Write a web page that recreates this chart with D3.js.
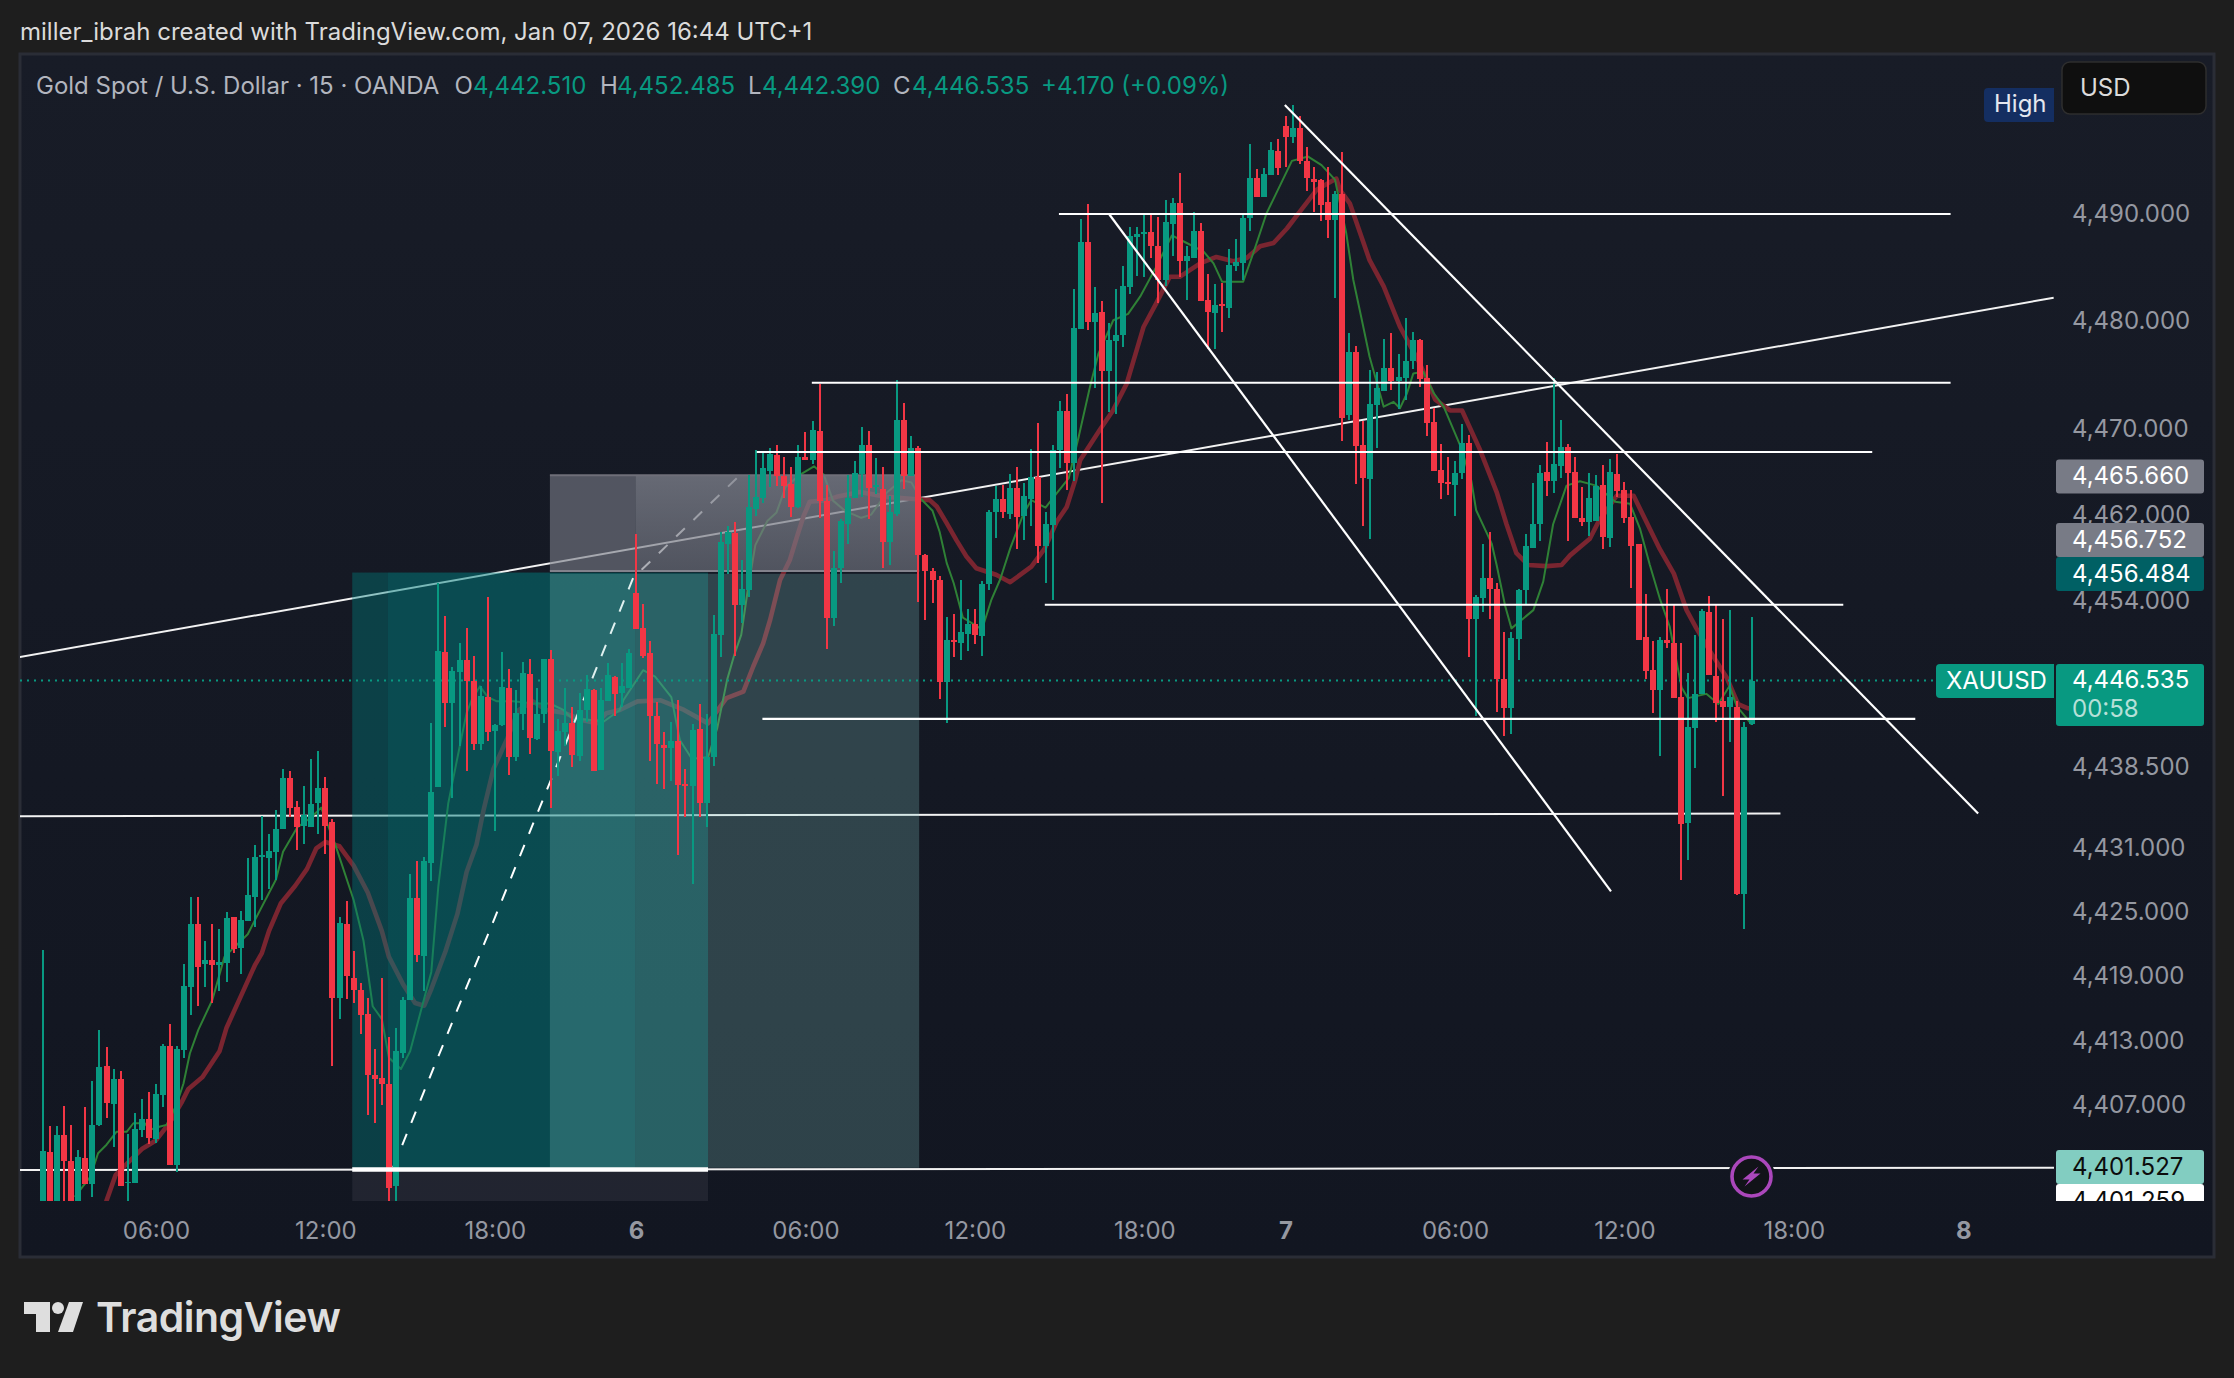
<!DOCTYPE html>
<html>
<head>
<meta charset="utf-8">
<script src="https://cdn.jsdelivr.net/npm/d3@7"></script>
<style>
  html, body { margin: 0; padding: 0; background: #1e1e1e; }
  svg { display: block; }
  text { font-family: Inter, "Noto Sans", sans-serif; }
</style>
</head>
<body>
<svg id="chart"></svg>
<script>
// 15 min candles, first bar is 02:00 on the 5th
const opens = [
  4397,4402.6,4397,4404.2,4401.8,4397,4402.05,4399.65,4405.1,4410.6,
  4407.1,4409.4,4399.75,4399.73,4404.67,4405.7,4403.8,4407.9,4412.5,4401.4,
  4412.1,4418,4423.9,4420.1,4420.5,4420,4420.2,4424.5,4421.6,4424.1,
  4426.4,4430.1,4430,4430.6,4432.7,4437.5,4434.8,4433,4432.9,4435.1,
  4436.5,4433.4,4417,4423.9,4418.8,4417.7,4415.5,4409.8,4409.5,4409,
  4399.5,4411.8,4416.8,4426.3,4420.9,4429.5,4436.65,4449.2,4444.45,4447.3,
  4448.45,4446.5,4440.6,4445,4441.85,4442.4,4445.85,4439.4,4443.4,4447.15,
  4441.1,4443.4,4448.55,4439.9,4441.75,4442.6,4439.5,4443.8,4445.65,4438.2,
  4444.65,4446.85,4445.35,4445.8,4454.7,4451.4,4449.1,4443.2,4440.55,4440.3,
  4440.9,4436.9,4436.7,4442,4435.1,4439.4,4450.8,4459.3,4460.25,4453.6,
  4455,4462.5,4463.5,4466.1,4467.55,4465.55,4464.85,4462.7,4467.4,4467.1,
  4469.8,4463.25,4452.4,4457,4461.1,4463.5,4465.8,4468.45,4464.6,4464.4,
  4459.4,4462.1,4470.85,4465.55,4468.2,4458.25,4456.7,4455.9,4446.4,4450.3,
  4450,4450.9,4451.8,4450.7,4455.55,4462.2,4463.45,4462.1,4464.5,4461.85,
  4463.45,4465.5,4459.1,4461.05,4468,4471.65,4466.85,4479.3,4487.35,4479.9,
  4480.85,4475.4,4478.2,4478.7,4483.2,4487.9,4488.2,4488.3,4487,4483.85,
  4489.05,4491,4485.6,4485.9,4488.4,4481.95,4480.8,4481.6,4481.25,4485.2,
  4485.45,4489.65,4493.4,4491.6,4493.65,4495.85,4498.2,4497.2,4498.05,4494.95,
  4493.3,4493.2,4491.1,4489.45,4491.85,4471.3,4477.15,4468.5,4465.3,4472.2,
  4473.55,4475.7,4474.4,4474.7,4476.35,4478.3,4474.7,4470.6,4466.15,4465,
  4464.8,4465.85,4468.7,4452.25,4454.25,4456.05,4455.1,4446.65,4443.95,4450.45,
  4455,4458.9,4461.1,4466,4465.1,4466.5,4468.3,4466,4461.65,4461.35,
  4461.4,4464.75,4459.8,4465.8,4464.3,4461.75,4459.25,4450.6,4447.55,4445.7,
  4450.3,4450.05,4445,4433.3,4442.15,4445.3,4452.9,4447,4444.65,4444.1,
  4444.1,4426.7,4442.51
];
const closes = [
  4402.7,4397,4404.2,4401.8,4397,4402.15,4399.65,4405.1,4410.5,4407.2,
  4409.4,4399.5,4399.85,4404.76,4405.7,4403.9,4408,4412.5,4401.4,4412.2,
  4418.08,4423.9,4419.9,4420.5,4420,4420.3,4424.45,4421.5,4424.2,4426.6,
  4430.1,4430.3,4430.7,4432.7,4437.5,4434.7,4432.9,4434,4435,4436.5,
  4433,4417,4424,4419,4417.7,4415.4,4409.8,4409.4,4409,4399.3,
  4412,4416.8,4426.3,4421,4429.7,4436.2,4449.3,4444.45,4447.4,4448.45,
  4446.5,4440.6,4445.1,4441.75,4442.4,4445.9,4439.4,4443.5,4447.25,4441.2,
  4443.4,4448.55,4440,4441.85,4442.6,4439.6,4443.8,4445.75,4438.1,4444.7,
  4447.05,4445.3,4446,4449.1,4451.35,4448.8,4443.2,4440.6,4440.3,4440.9,
  4436.8,4436.7,4441.9,4435.1,4439.4,4450.9,4459.45,4460.4,4453.6,4455.05,
  4462.7,4463.6,4466.3,4467.6,4465.6,4464.7,4462.7,4467.4,4467.1,4469.9,
  4463.25,4452.4,4457,4461.4,4463.5,4465.9,4468.45,4464.45,4464.75,4459.4,
  4462.2,4470.85,4465.55,4468.2,4458.2,4456.7,4455.9,4446.4,4450.3,4450.1,
  4451.05,4451.8,4450.8,4455.55,4462.25,4463.45,4462.2,4464.45,4461.8,4463.7,
  4465.5,4459.1,4461.1,4468,4471.65,4466.85,4479.35,4487.35,4479.9,4480.75,
  4475.4,4478.25,4478.7,4483.3,4487.95,4488.1,4488.3,4487,4483.85,4489.25,
  4491,4485.6,4486.1,4488.4,4481.9,4480.9,4481.5,4481.45,4485.25,4485.5,
  4489.6,4493.4,4491.6,4493.7,4495.95,4494.3,4497.2,4498.05,4494.9,4493.4,
  4493,4490.8,4489.45,4491.9,4471,4477.15,4468.4,4465.45,4472.3,4473.75,
  4475.7,4474.45,4474.8,4476.35,4478.3,4474.65,4470.55,4466.05,4464.95,4464.9,
  4465.85,4468.65,4452.3,4454.3,4456.05,4455.1,4446.65,4443.95,4450.5,4455,
  4459.05,4461.1,4465.85,4465.1,4466.7,4468.3,4465.9,4461.65,4461.35,4463.55,
  4464.7,4459.95,4465.95,4464.2,4461.7,4459.1,4450.35,4447.4,4445.7,4450.3,
  4450,4444.9,4433.2,4442.2,4445.3,4453,4447.1,4444.45,4444.1,4445.05,
  4426.7,4442.25,4446.535
];
const highs = [
  4421.4,4405,4405,4406.9,4405.1,4402.8,4406.8,4409.2,4414,4412.4,
  4410.4,4410.2,4404.3,4406.25,4407.55,4408.2,4408.95,4412.7,4414.5,4412.5,
  4420.1,4426.4,4426.4,4422.3,4423.9,4423.4,4425,4424.5,4425.1,4430,
  4431.2,4433.9,4432.2,4434.5,4438.3,4438.1,4435.3,4436.7,4439.2,4440,
  4437.6,4433.6,4424.5,4426,4421.3,4418.4,4417,4412.2,4418.8,4413.3,
  4414.2,4417.1,4428.5,4429.7,4430.1,4442.6,4455.66,4452.55,4447.8,4450,
  4451.4,4448.8,4446,4454.3,4442.5,4449.2,4447.6,4445.65,4448.3,4448.55,
  4445.85,4448.55,4449.4,4443,4445.85,4444.1,4445.4,4447.05,4445.75,4445.85,
  4448.2,4446.95,4448.2,4449.45,4460.2,4453.7,4450.2,4444.5,4441.7,4442.65,
  4444.7,4438.3,4442.5,4444.4,4443.4,4452.6,4460.4,4460.9,4461.3,4457.8,
  4465.7,4468,4467.7,4468.2,4468.5,4467.4,4466.4,4468.5,4469.7,4470.7,
  4474.2,4464.75,4458.6,4461.55,4465.7,4467,4470.2,4469.8,4467.3,4466.4,
  4463.7,4474.5,4472.4,4469.3,4468.4,4458.3,4457.05,4456.25,4452.45,4452.7,
  4455.9,4453.2,4453.2,4455.8,4462.45,4464.65,4464.75,4465.8,4466.4,4464.9,
  4468.1,4470.5,4462.25,4468.45,4472.55,4473.2,4482.98,4489.5,4490.9,4483.2,
  4481.9,4479.8,4483,4485.2,4488.75,4488.8,4490.1,4490.05,4489.75,4491.35,
  4491.45,4493.85,4487,4490.2,4489.2,4484.4,4483.5,4483.6,4486.7,4487.65,
  4489.9,4496.5,4494.15,4494.25,4496.7,4496.95,4499.15,4500.15,4499.15,4496.2,
  4494.35,4493.3,4494.35,4492.1,4495.75,4478.9,4477.75,4470.75,4475.45,4475.25,
  4478.35,4478.9,4477,4480.3,4479,4478.4,4475.95,4471.9,4468.55,4467.35,
  4467,4470.4,4469.4,4454.5,4459.25,4460.4,4455.6,4451.1,4451.1,4455.1,
  4460.2,4464.95,4466.6,4468.75,4474.75,4470.8,4468.55,4467.35,4464.55,4465.85,
  4465.65,4466.65,4467.15,4467.6,4465,4464.3,4459.25,4454.6,4450.25,4450.6,
  4455.1,4453.65,4450.05,4447.2,4450.75,4453.2,4454.4,4453.6,4452.3,4453.1,
  4444.6,4442.65,4452.485
];
const lows = [
  4396,4396,4396,4397,4396,4396,4399.6,4398.46,4405,4405.8,
  4403.1,4399.45,4396,4399.7,4404,4403.4,4403.45,4406.8,4401.4,4400.8,
  4411.4,4415.4,4416.2,4418,4416.5,4417.6,4418.5,4421.2,4419.2,4424.1,
  4423.6,4426.1,4427.1,4428,4432.7,4433.8,4430.8,4431.3,4432.9,4432.2,
  4430.4,4410.6,4415,4416.9,4416.5,4413.6,4406.1,4405.3,4407,4396,
  4396,4411.4,4416.8,4420.3,4417.6,4427.9,4436.6,4442.25,4435.6,4440.45,
  4438.15,4440.1,4440.1,4440.9,4432.5,4442.3,4437.75,4439.05,4441.9,4439.7,
  4441,4442.6,4434.7,4437.65,4440.4,4438.5,4439,4442.7,4438.1,4438.2,
  4444.65,4443.25,4444.1,4445.8,4451.3,4448.6,4439,4436.9,4436.4,4437.2,
  4430.3,4433.8,4427.6,4433.8,4432.9,4438.6,4448.7,4456.5,4448.8,4451.9,
  4454.35,4461.9,4463.1,4464.6,4464.7,4463.5,4461.8,4462.6,4467.05,4466.7,
  4461.7,4449.5,4451.6,4455.6,4459.3,4463.5,4463.6,4461.6,4463.95,4457.05,
  4457.3,4461.9,4464.4,4465.55,4453.85,4452.15,4453.75,4444.85,4442.6,4448.7,
  4448.5,4449.25,4449.9,4448.8,4455,4459.85,4461.7,4461.55,4458.75,4459.6,
  4460.9,4457.45,4455.6,4454,4466.35,4464.3,4465.15,4479.3,4479.15,4473.75,
  4463.1,4471.6,4471.4,4477.6,4482.55,4484.2,4484.15,4485.9,4481.7,4483.3,
  4486.1,4484.15,4482,4485.9,4481.85,4477.4,4477.45,4479.05,4480.35,4484.7,
  4483.85,4488.45,4491.6,4491.6,4493.65,4493.65,4494.35,4496.65,4494.65,4492.1,
  4490.2,4489.35,4487.8,4482.2,4468.9,4470.8,4464.85,4460.95,4459.7,4468.2,
  4473.55,4473.6,4471.8,4472.7,4475.55,4473.85,4469.35,4466.05,4463.45,4463.8,
  4461.85,4465.3,4448.7,4443.2,4452.9,4452.25,4443.65,4441.4,4441.6,4448.45,
  4453.65,4458.9,4459.5,4463.75,4464.05,4465.45,4459.5,4461.65,4460.95,4460,
  4461.4,4458.8,4459,4463.65,4461.25,4455.2,4450.35,4446.65,4443.5,4439.5,
  4449.6,4444.9,4427.95,4429.85,4438.35,4445.3,4447.1,4442.7,4435.8,4440.85,
  4426.55,4423.35,4442.39
];

// the two moving averages, vertices as [bar, price]
const fastMA = [
  [4.5,4398.45],[6.7,4400.3],[7.8,4402.5],[9,4403.3],[10.4,4404.5],[11.85,4404.5],[12.8,4405.3],[14.4,4405.3],
  [15.15,4404.7],[16.6,4405],[17.5,4405.15],[18.9,4407],[19.9,4409],[20.8,4411.8],[22,4414],[24,4416.8],
  [25.7,4420.8],[29,4422.9],[30,4424.2],[33,4428],[34,4430.6],[36,4432.85],[38,4433.8],[39.4,4434.7],
  [41.4,4431.25],[44,4426.1],[45.4,4422.3],[46.7,4416.2],[48,4415],[49,4411.4],[50.7,4410.35],[52,4412],
  [53.7,4416.2],[55,4419.4],[56,4427.4],[57.4,4435.1],[59.3,4441.3],[60,4443.5],[60.7,4444.7],[61.9,4446],
  [63,4445],[64.3,4444.6],[66.6,4444.6],[69.5,4444.4],[71.8,4444.4],[73.7,4443.8],[75.1,4442.9],[77,4442.9],
  [79.4,4442.7],[81.7,4443.8],[82.2,4444.7],[85,4447.5],[86.7,4446.9],[89,4445],[90.2,4441],[91.9,4439.25],
  [94.2,4439.4],[95.5,4442.1],[96.9,4446.6],[97.9,4448.9],[98.9,4450.8],[99.9,4455.3],[100.9,4459.15],[102.6,4461.4],
  [103.9,4462.2],[105.2,4464.6],[107.2,4465.7],[109.2,4466.5],[110.6,4465.7],[111.9,4463.3],[113.6,4462.35],[115.9,4461.7],
  [117.3,4462],[119.6,4464.1],[121.6,4465.2],[123,4465],[124.3,4463.5],[126,4462.35],[127,4460.4],[128,4457.5],
  [129,4455.6],[130.3,4452.4],[133,4451.3],[134.3,4454],[135.6,4456],[137,4458.85],[138.9,4462.1],[140,4463.35],
  [142,4462.65],[143.6,4464],[145.3,4465.4],[146.7,4469.25],[148.3,4473.9],[149.5,4477],[151.6,4480.1],[153.7,4480.7],
  [155.4,4482.3],[157.7,4485.1],[159.9,4488],[162,4487.3],[164.4,4486.5],[165.8,4485.4],[167,4483.7],[170,4483.7],
  [171.4,4486.3],[173.3,4490.05],[176.9,4494.95],[179.2,4495.35],[181.1,4494.55],[183,4493.2],[184.6,4488.2],[185.6,4483.85],
  [186.8,4480.15],[187.9,4476.7],[189.9,4472.05],[191.3,4472.5],[192.2,4471.9],[193.2,4473.3],[194.1,4475.15],[195.5,4475.3],
  [197,4473.3],[198.4,4472.05],[200.7,4468.5],[202.3,4465.2],[203,4462.4],[205.2,4459.3],[205.9,4457.3],[207.1,4453.5],
  [208,4451.4],[211.1,4453.1],[212.5,4455.75],[213.9,4461.1],[215.8,4464.7],[217.7,4465.1],[220,4464.7],[222.7,4463.2],
  [224.8,4463],[226.2,4460.7],[227.6,4457.3],[229,4454.2],[230.4,4451.6],[232.1,4445.9],[233,4444.9],[235.6,4445.3],
  [237.3,4444.35],[238.9,4446.05],[239.9,4444.15],[241.1,4443.2],[242,4442.45]
];
const slowMA = [
  [8.95,4398],[10.3,4400.5],[12,4401.6],[14,4402.9],[16,4403.7],[18,4405.4],[19.6,4407.2],[20.6,4408.5],
  [22.6,4409.6],[25,4412],[26,4414.2],[28,4417.1],[30,4420],[31,4421.15],[32,4423.2],[33.7,4425.8],
  [35.7,4427.4],[37.4,4429],[38.7,4430.9],[40,4431.5],[42,4431.1],[44,4429.3],[46,4426.8],[48,4423.2],
  [49,4420.8],[51,4418.25],[52.7,4416.5],[54,4416.25],[55,4417.8],[57,4421.3],[58.7,4424.8],[60,4428.7],
  [61.4,4431.25],[62.4,4434.45],[63.8,4438.3],[65.8,4441.2],[67.4,4443.8],[69.4,4444.6],[71.3,4443.8],[73.7,4443.55],
  [76.5,4442.85],[78.4,4442.55],[79.8,4443.5],[81.7,4443.8],[84.2,4444.6],[87.5,4444.7],[90.8,4443.8],[94.2,4442.55],
  [96.8,4444.9],[99.2,4445.5],[100.6,4447.85],[102,4450],[103,4452.2],[104.4,4455.9],[105.8,4457.8],[106.8,4459.95],
  [107.7,4461.8],[108.6,4463.2],[111,4463.35],[112.4,4463.65],[115.7,4464.1],[119.5,4463.65],[123.3,4463.45],[125.6,4463.35],
  [126.6,4462.75],[128,4461.2],[129.4,4459.6],[130.8,4458.1],[132.2,4457],[135,4456.4],[137,4455.7],[140,4457.15],
  [141.9,4458.85],[143.6,4461.35],[145,4462.7],[146.2,4465.2],[146.9,4467.05],[149.7,4469.9],[151.6,4471.75],[153.5,4474.2],
  [155.9,4479.5],[157.7,4481.7],[159.6,4484.15],[161,4484.15],[163.9,4485.4],[166.2,4486],[168.6,4485.6],[170.5,4485.9],
  [172.4,4487],[174.3,4487.3],[176.2,4488.65],[178,4490.2],[180.4,4492.25],[183.2,4493.3],[183.7,4492.25],[185.1,4491],
  [187.9,4485.7],[189.9,4483.25],[192.2,4479.5],[195,4476.1],[197.2,4472.7],[199.3,4471.7],[201,4471.7],[203.5,4468.1],
  [205.9,4464.1],[207.3,4461.1],[208.7,4458.4],[210.4,4457.3],[213,4457.2],[215.1,4457.3],[216.3,4458.2],[219.1,4459.75],
  [220.3,4461.3],[222.9,4463.75],[225.3,4463.75],[229,4458.8],[231,4456.5],[232.8,4453.1],[234.2,4451.4],[236.1,4449.3],
  [238.5,4446.8],[240.1,4444.35],[241.5,4443.95],[242,4443.9]
];

// drawings, [bar, price] end points
const underLines = [
  [[-3.3,4448.73],[284.8,4482.2]],
  [[-3.3,4433.9],[246.1,4434.15]],
  [[-3.3,4400.95],[285,4401.15]]
];
const overLines = [
  [[143.9,4490],[270.2,4490]],
  [[108.9,4474.28],[270.2,4474.28]],
  [[101.1,4467.83],[259.1,4467.83]],
  [[141.9,4453.6],[255,4453.6]],
  [[101.9,4442.97],[265.2,4442.97]],
  [[151,4490],[222.1,4426.9]],
  [[175.9,4500.15],[274.1,4434.15]]
];
const dashedPath = [[49.6,4401.2],[83.6,4456.1],[98.7,4465.66]];
const thickLine = [[43.8,4401],[94.2,4401]];

// position tool boxes: first bar, last bar, top price, bottom price
const tealBoxes = [
  [43.8,48.8,4456.6,4401.1,0.4],
  [48.8,83.9,4456.6,4401.1,0.5],
  [83.9,94.2,4456.6,4401.1,0.4]
];
const lightBox = [71.8,124.1,4456.484,4401.15];
const stopBoxLeft = [71.8,83.9,4465.66,4456.752];
const stopBoxRight = [83.9,124.1,4465.66,4456.752];
const darkBox = [43.8,94.2,4401,4390];

const priceTicks = [4490,4480,4470,4462,4454,4438.5,4431,4425,4419,4413,4407];
const timeTicks = [16,40,64,84,108,132,156,176,200,224,248,272];
const timeLabels = ["06:00","12:00","18:00","6","06:00","12:00","18:00","7","06:00","12:00","18:00","8"];
const boldLabels = ["6","7","8"];
const lastPrice = 4446.535;

const legendTitle = "Gold Spot / U.S. Dollar · 15 · OANDA";
const legendKeys = ["O","H","L","C"];
const legendValues = ["4,442.510","4,452.485","4,442.390","4,446.535"];
const legendChange = "+4.170 (+0.09%)";
const headerText = "miller_ibrah created with TradingView.com, Jan 07, 2026 16:44 UTC+1";

const W = 2234, H = 1378;
const green = "#089981", red = "#f23645";
const pane = { left: 20, right: 2054, top: 54, bottom: 1201 };

const svg = d3.select("#chart").attr("width", W).attr("height", H);
const defs = svg.append("defs");

const paneBg = defs.append("linearGradient").attr("id", "paneBg").attr("x1", 0).attr("x2", 0).attr("y1", 0).attr("y2", 1);
paneBg.append("stop").attr("offset", 0).attr("stop-color", "#181c27");
paneBg.append("stop").attr("offset", 0.6).attr("stop-color", "#141823");
paneBg.append("stop").attr("offset", 1).attr("stop-color", "#121621");

const stopFill = defs.append("linearGradient").attr("id", "stopFill").attr("x1", 0).attr("x2", 0).attr("y1", 0).attr("y2", 1);
stopFill.append("stop").attr("offset", 0).attr("stop-color", "#787b86").attr("stop-opacity", 0.82);
stopFill.append("stop").attr("offset", 1).attr("stop-color", "#787b86").attr("stop-opacity", 0.6);

defs.append("clipPath").attr("id", "paneClip").append("rect")
  .attr("x", pane.left).attr("y", pane.top)
  .attr("width", pane.right - pane.left).attr("height", pane.bottom - pane.top);
defs.append("clipPath").attr("id", "axisClip").append("rect")
  .attr("x", 2056).attr("y", pane.top).attr("width", 150).attr("height", pane.bottom - pane.top);

const x = d3.scaleLinear().domain([0, 272]).range([43, 1963.3]);
const y = d3.scaleLinear().domain([4490, 4407]).range([214, 1105]);

// frame
svg.append("rect").attr("width", W).attr("height", H).attr("fill", "#1e1e1e");
svg.append("rect").attr("x", 20).attr("y", 54).attr("width", 2194).attr("height", 1203)
  .attr("fill", "url(#paneBg)").attr("stroke", "#2a2d36").attr("stroke-width", 3);

svg.append("text").attr("x", 20).attr("y", 40).attr("fill", "#dbdbdb").style("font-size", "24px").text(headerText);

const g = svg.append("g").attr("clip-path", "url(#paneClip)");

const seg = d3.line().x(d => x(d[0])).y(d => y(d[1]));

g.selectAll(".under").data(underLines).join("path").attr("class", "under")
  .attr("d", seg).attr("fill", "none").attr("stroke", "#f2f2f2").attr("stroke-width", 2);

// moving averages sit below the tool boxes
g.append("path").datum(slowMA).attr("d", seg).attr("fill", "none")
  .attr("stroke", "#7a2530").attr("stroke-width", 4.6).attr("stroke-linejoin", "round");
g.append("path").datum(fastMA).attr("d", seg).attr("fill", "none")
  .attr("stroke", "#2f8136").attr("stroke-width", 2).attr("stroke-linejoin", "round");

function boxRect(sel, b) {
  return sel.attr("x", x(b[0])).attr("width", x(b[1]) - x(b[0]))
    .attr("y", y(b[2])).attr("height", y(b[3]) - y(b[2]));
}

tealBoxes.forEach(b => {
  boxRect(g.append("rect"), b).attr("fill", `rgba(0,125,126,${b[4]})`);
});
boxRect(g.append("rect"), darkBox).attr("fill", "rgba(120,123,134,0.15)");

g.append("path").datum(dashedPath).attr("d", seg).attr("fill", "none")
  .attr("stroke", "#ffffff").attr("stroke-width", 2).attr("stroke-dasharray", "12 12");

boxRect(g.append("rect"), lightBox).attr("fill", "rgba(131,200,194,0.25)");
boxRect(g.append("rect"), stopBoxLeft).attr("fill", "rgba(120,123,134,0.62)");
boxRect(g.append("rect"), stopBoxRight).attr("fill", "url(#stopFill)");
g.append("line")
  .attr("x1", x(stopBoxLeft[0])).attr("x2", x(stopBoxRight[1]))
  .attr("y1", y(stopBoxLeft[3])).attr("y2", y(stopBoxLeft[3]))
  .attr("stroke", "#82828c").attr("stroke-width", 2);
g.append("line")
  .attr("x1", x(stopBoxLeft[0])).attr("x2", x(stopBoxRight[1]))
  .attr("y1", y(stopBoxLeft[2])).attr("y2", y(stopBoxLeft[2]))
  .attr("stroke", "#6f6f79").attr("stroke-width", 2);

// last price line
g.append("line").attr("x1", pane.left).attr("x2", 1936).attr("y1", y(lastPrice)).attr("y2", y(lastPrice))
  .attr("stroke", green).attr("stroke-width", 2).attr("stroke-dasharray", "2 5");

// candles
const bars = d3.range(opens.length);
const col = i => closes[i] >= opens[i] ? green : red;
const candles = g.append("g").attr("shape-rendering", "crispEdges");
candles.selectAll(".wick").data(bars).join("rect").attr("class", "wick")
  .attr("x", i => x(i) - 1).attr("width", 2)
  .attr("y", i => y(highs[i])).attr("height", i => y(lows[i]) - y(highs[i]))
  .attr("fill", col);
candles.selectAll(".body").data(bars).join("rect").attr("class", "body")
  .attr("x", i => x(i) - 3).attr("width", 6)
  .attr("y", i => y(Math.max(opens[i], closes[i])))
  .attr("height", i => Math.max(1.5, Math.abs(y(opens[i]) - y(closes[i]))))
  .attr("fill", col);

// white drawings on top
g.selectAll(".over").data(overLines).join("path").attr("class", "over")
  .attr("d", seg).attr("fill", "none").attr("stroke", "#ffffff").attr("stroke-width", 2.2);
g.append("path").datum(thickLine).attr("d", seg).attr("stroke", "#ffffff").attr("stroke-width", 4.5);

// lightning marker on the last bar
const bolt = g.append("g").attr("transform", `translate(${x(242)},1176.5)`);
bolt.append("circle").attr("r", 21.5).attr("fill", "#131722").attr("stroke", "#131722").attr("stroke-width", 4);
bolt.append("circle").attr("r", 19.5).attr("fill", "#111318").attr("stroke", "#ab47bc").attr("stroke-width", 3.6);
bolt.append("path").attr("d", "M7,-10 L-9,3 L-2,3 L-7,10 L9,-3 L2,-3 Z").attr("fill", "#ab47bc");

// axes
const fmt3 = d3.format(",.3f");
const yAxis = svg.append("g").attr("transform", "translate(2072,-1)")
  .call(d3.axisRight(y).tickValues(priceTicks).tickFormat(fmt3).tickSize(0).tickPadding(0));
yAxis.select(".domain").remove();
yAxis.selectAll("text").attr("fill", "#9598a1").style("font-size", "24px")
  .style("font-family", "Inter, sans-serif").attr("dy", "0.36em");

const xAxis = svg.append("g").attr("transform", "translate(0,1222)")
  .call(d3.axisBottom(x).tickValues(timeTicks).tickFormat((d, i) => timeLabels[i]).tickSize(0).tickPadding(0));
xAxis.select(".domain").remove();
xAxis.selectAll("text").attr("fill", "#9598a1").style("font-size", "24px")
  .style("font-family", "Inter, sans-serif")
  .style("font-weight", (d, i) => boldLabels.includes(timeLabels[i]) ? 700 : 400);

// price tags on the right
const tags = [
  { text: "4,465.660", top: 459.5, h: 34, fill: "#787b86", color: "#ffffff" },
  { text: "4,456.752", top: 523, h: 34, fill: "#787b86", color: "#ffffff" },
  { text: "4,456.484", top: 557, h: 34, fill: "#006064", color: "#ffffff" },
  { text: "4,401.527", top: 1150, h: 34, fill: "#82cdc1", color: "#0c0c0c" },
  { text: "4,401.259", top: 1184, h: 34, fill: "#ffffff", color: "#0c0c0c" }
];
const tagG = svg.append("g").attr("clip-path", "url(#axisClip)");
tags.forEach(t => {
  tagG.append("rect").attr("x", 2056).attr("y", t.top).attr("width", 148).attr("height", t.h).attr("rx", 3).attr("fill", t.fill);
  tagG.append("text").attr("x", 2072).attr("y", t.top + t.h / 2 + 7.5).attr("fill", t.color).style("font-size", "24px").text(t.text);
});

svg.append("rect").attr("x", 2056).attr("y", 664).attr("width", 148).attr("height", 62).attr("rx", 3).attr("fill", green);
svg.append("text").attr("x", 2072).attr("y", 688).attr("fill", "#ffffff").style("font-size", "24px").text(fmt3(lastPrice));
svg.append("text").attr("x", 2072).attr("y", 717).attr("fill", "#b6e0d8").style("font-size", "24px").text("00:58");

svg.append("path").attr("d", "M2054,664 H1940 a4,4 0 0 0 -4,4 V694 a4,4 0 0 0 4,4 H2054 Z").attr("fill", green);
svg.append("text").attr("x", 1946).attr("y", 689).attr("fill", "#ffffff").style("font-size", "24px").text("XAUUSD");

svg.append("path").attr("d", "M2054,88 H1988 a4,4 0 0 0 -4,4 V118 a4,4 0 0 0 4,4 H2054 Z").attr("fill", "#142e61");
svg.append("text").attr("x", 1994).attr("y", 112).attr("fill", "#e4e7ef").style("font-size", "24px").text("High");

svg.append("rect").attr("x", 2062).attr("y", 62).attr("width", 144).attr("height", 52).attr("rx", 8)
  .attr("fill", "#0f0f0f").attr("stroke", "#2e2e2e").attr("stroke-width", 1.5);
svg.append("text").attr("x", 2080).attr("y", 96).attr("fill", "#dbdbdb").style("font-size", "24px").text("USD");

// legend
svg.append("text").attr("x", 36).attr("y", 94).attr("fill", "#b2b5be").style("font-size", "24px").text(legendTitle);
[[454.5, 473], [600, 617], [748, 762], [893, 912]].forEach((p, i) => {
  svg.append("text").attr("x", p[0]).attr("y", 94).attr("fill", "#b2b5be").style("font-size", "24px").text(legendKeys[i]);
  svg.append("text").attr("x", p[1]).attr("y", 94).attr("fill", green).style("font-size", "24px").text(legendValues[i]);
});
svg.append("text").attr("x", 1041).attr("y", 94).attr("fill", green).style("font-size", "24px").text(legendChange);

// logo
const logo = svg.append("g").attr("fill", "#dedede");
logo.append("path").attr("d", "M24,1302 H50 V1332 H36 V1314 H24 Z");
logo.append("circle").attr("cx", 58).attr("cy", 1308).attr("r", 6);
logo.append("path").attr("d", "M69,1302 H83 L73,1332 H58 Z");
logo.append("text").attr("x", 96).attr("y", 1332).style("font-size", "41px").style("font-weight", 600)
  .style("letter-spacing", "-0.5px").text("TradingView");
</script>
</body>
</html>
